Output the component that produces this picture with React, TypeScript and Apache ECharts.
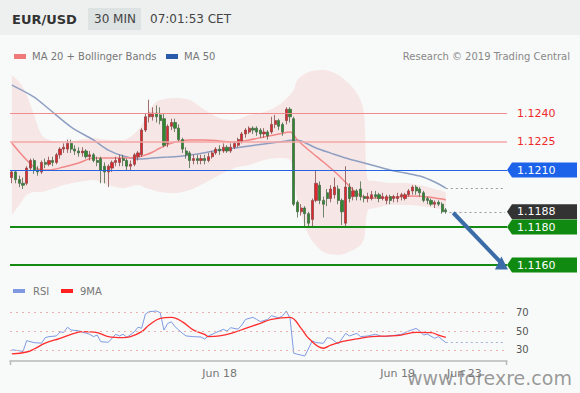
import React, { useEffect, useRef } from 'react';
import * as echarts from 'echarts';

const N_CATS = 134;
const TICK_INDEX = [56, 104, 122];
const TICK_LABELS = ['Jun 18', 'Jun 19', 'Jun 23'];

// [open, close, low, high]
const CANDLES = [
  [1.1206, 1.1209, 1.1203, 1.1210], [1.1209, 1.1205, 1.1203, 1.1210], [1.1205, 1.1203, 1.1201, 1.1207], [1.1203, 1.1202, 1.1200, 1.1206],
  [1.1203, 1.1211, 1.1202, 1.1212], [1.1211, 1.1215, 1.1210, 1.1216], [1.1215, 1.1210, 1.1208, 1.1216], [1.1210, 1.1209, 1.1207, 1.1212],
  [1.1209, 1.1214, 1.1208, 1.1215], [1.1214, 1.1213, 1.1211, 1.1216], [1.1213, 1.1215, 1.1212, 1.1217], [1.1215, 1.1214, 1.1212, 1.1217],
  [1.1214, 1.1218, 1.1213, 1.1219], [1.1218, 1.1221, 1.1216, 1.1222], [1.1221, 1.1222, 1.1219, 1.1224], [1.1221, 1.1224, 1.1219, 1.1226],
  [1.1224, 1.1221, 1.1219, 1.1226], [1.1221, 1.1220, 1.1218, 1.1223], [1.1220, 1.1219, 1.1217, 1.1222], [1.1219, 1.1220, 1.1217, 1.1222],
  [1.1220, 1.1217, 1.1216, 1.1221], [1.1217, 1.1218, 1.1215, 1.1220], [1.1218, 1.1215, 1.1214, 1.1219], [1.1215, 1.1214, 1.1212, 1.1217],
  [1.1216, 1.1210, 1.1203, 1.1217], [1.1212, 1.1209, 1.1203, 1.1214], [1.1209, 1.1212, 1.1201, 1.1213], [1.1211, 1.1214, 1.1209, 1.1215],
  [1.1214, 1.1215, 1.1212, 1.1217], [1.1214, 1.1216, 1.1212, 1.1218], [1.1216, 1.1215, 1.1212, 1.1218], [1.1215, 1.1212, 1.1210, 1.1216],
  [1.1212, 1.1213, 1.1210, 1.1215], [1.1213, 1.1218, 1.1212, 1.1219], [1.1217, 1.1219, 1.1215, 1.1220], [1.1218, 1.1231, 1.1217, 1.1232],
  [1.1231, 1.1238, 1.1230, 1.1240], [1.1238, 1.1240, 1.1235, 1.1247], [1.1238, 1.1240, 1.1236, 1.1243], [1.1240, 1.1238, 1.1235, 1.1244],
  [1.1239, 1.1236, 1.1234, 1.1243], [1.1237, 1.1223, 1.1222, 1.1240], [1.1224, 1.1233, 1.1222, 1.1234], [1.1233, 1.1235, 1.1231, 1.1237],
  [1.1235, 1.1232, 1.1230, 1.1237], [1.1232, 1.1226, 1.1225, 1.1234], [1.1226, 1.1221, 1.1219, 1.1227], [1.1220, 1.1218, 1.1216, 1.1222],
  [1.1219, 1.1215, 1.1211, 1.1220], [1.1215, 1.1216, 1.1213, 1.1218], [1.1216, 1.1215, 1.1213, 1.1218], [1.1215, 1.1216, 1.1213, 1.1218],
  [1.1216, 1.1215, 1.1213, 1.1218], [1.1215, 1.1217, 1.1214, 1.1219], [1.1217, 1.1219, 1.1216, 1.1220], [1.1219, 1.1221, 1.1218, 1.1222],
  [1.1221, 1.1220, 1.1218, 1.1223], [1.1220, 1.1222, 1.1219, 1.1224], [1.1222, 1.1220, 1.1219, 1.1223], [1.1220, 1.1222, 1.1219, 1.1224],
  [1.1222, 1.1224, 1.1221, 1.1225], [1.1223, 1.1226, 1.1222, 1.1227], [1.1225, 1.1229, 1.1224, 1.1230], [1.1229, 1.1231, 1.1227, 1.1232],
  [1.1230, 1.1232, 1.1229, 1.1233], [1.1232, 1.1231, 1.1229, 1.1233], [1.1232, 1.1230, 1.1228, 1.1233], [1.1231, 1.1229, 1.1227, 1.1232],
  [1.1229, 1.1230, 1.1227, 1.1232], [1.1230, 1.1228, 1.1226, 1.1231], [1.1230, 1.1234, 1.1229, 1.1238], [1.1234, 1.1236, 1.1232, 1.1239],
  [1.1236, 1.1233, 1.1231, 1.1237], [1.1234, 1.1230, 1.1228, 1.1235], [1.1236, 1.1242, 1.1234, 1.1243], [1.1242, 1.1238, 1.1235, 1.1243],
  [1.1237, 1.1192, 1.1191, 1.1238], [1.1193, 1.1188, 1.1185, 1.1194], [1.1188, 1.1190, 1.1186, 1.1192], [1.1190, 1.1187, 1.1180, 1.1191],
  [1.1187, 1.1182, 1.1180, 1.1188], [1.1184, 1.1194, 1.1180, 1.1195], [1.1194, 1.1203, 1.1193, 1.1210], [1.1202, 1.1194, 1.1192, 1.1204],
  [1.1194, 1.1192, 1.1185, 1.1196], [1.1198, 1.1195, 1.1191, 1.1200], [1.1195, 1.1200, 1.1193, 1.1202], [1.1197, 1.1201, 1.1195, 1.1206],
  [1.1200, 1.1194, 1.1192, 1.1202], [1.1194, 1.1188, 1.1181, 1.1195], [1.1182, 1.1201, 1.1180, 1.1212], [1.1201, 1.1195, 1.1193, 1.1203],
  [1.1196, 1.1199, 1.1194, 1.1201], [1.1199, 1.1196, 1.1194, 1.1200], [1.1200, 1.1196, 1.1194, 1.1204], [1.1196, 1.1195, 1.1193, 1.1197],
  [1.1195, 1.1196, 1.1193, 1.1198], [1.1195, 1.1197, 1.1194, 1.1199], [1.1197, 1.1196, 1.1195, 1.1199], [1.1197, 1.1195, 1.1193, 1.1198],
  [1.1195, 1.1196, 1.1194, 1.1198], [1.1194, 1.1196, 1.1192, 1.1197], [1.1196, 1.1194, 1.1192, 1.1197], [1.1195, 1.1196, 1.1193, 1.1197],
  [1.1195, 1.1196, 1.1193, 1.1198], [1.1196, 1.1197, 1.1194, 1.1198], [1.1195, 1.1197, 1.1194, 1.1198], [1.1197, 1.1199, 1.1196, 1.1200],
  [1.1199, 1.1201, 1.1197, 1.1202], [1.1201, 1.1199, 1.1197, 1.1202], [1.1200, 1.1198, 1.1196, 1.1201], [1.1198, 1.1194, 1.1193, 1.1199],
  [1.1195, 1.1194, 1.1192, 1.1196], [1.1194, 1.1192, 1.1191, 1.1195], [1.1192, 1.1193, 1.1190, 1.1194], [1.1193, 1.1192, 1.1191, 1.1194],
  [1.1192, 1.1188, 1.1187, 1.1193], [1.1189, 1.1188, 1.1187, 1.1190],
];

const BB_IDX = [0, 2, 4, 6, 8, 10, 14, 18, 22, 26, 30, 34, 36, 38, 40, 44, 48, 52, 56, 60, 64, 68, 72, 75, 76, 77, 80, 84, 88, 92, 94, 95, 96, 98, 102, 106, 110, 114, 117];
const BB_UPPER = [1.126, 1.12563, 1.12495, 1.12389, 1.12284, 1.12258, 1.12242, 1.12258, 1.12268, 1.12258, 1.12258, 1.12311, 1.12374, 1.12442, 1.12468, 1.12479, 1.12468, 1.12416, 1.12374, 1.12363, 1.12389, 1.12405, 1.12442, 1.12495, 1.12521, 1.12574, 1.12616, 1.12626, 1.126, 1.12532, 1.12468, 1.12389, 1.12047, 1.12042, 1.12032, 1.12032, 1.12021, 1.12, 1.11984];
const BB_LOWER = [1.11863, 1.11916, 1.11968, 1.11984, 1.11984, 1.11995, 1.12021, 1.12037, 1.12047, 1.12021, 1.12005, 1.12021, 1.12005, 1.11995, 1.11984, 1.11979, 1.11995, 1.12032, 1.12074, 1.12111, 1.12126, 1.12153, 1.12163, 1.12153, 1.12074, 1.11942, 1.11758, 1.11668, 1.11653, 1.11679, 1.11705, 1.11742, 1.11889, 1.119, 1.11916, 1.11916, 1.11911, 1.119, 1.11889];

const MA20_IDX = [0, 2, 4, 6, 8, 10, 14, 18, 22, 26, 30, 34, 36, 38, 40, 44, 48, 52, 56, 60, 64, 68, 72, 75, 77, 80, 84, 88, 92, 94, 96, 100, 104, 108, 112, 116, 117];
const MA20 = [1.12242, 1.12195, 1.12153, 1.12116, 1.121, 1.121, 1.12116, 1.12137, 1.12163, 1.12163, 1.12163, 1.12168, 1.12179, 1.12195, 1.12216, 1.12247, 1.12258, 1.12258, 1.12253, 1.12247, 1.12258, 1.12274, 1.12289, 1.123, 1.12258, 1.12205, 1.12142, 1.12074, 1.11995, 1.11963, 1.11953, 1.11953, 1.11958, 1.11963, 1.11958, 1.11947, 1.11942];

const MA50_IDX = [0, 6, 10, 16, 22, 26, 30, 34, 38, 42, 46, 50, 56, 62, 68, 74, 76, 78, 82, 86, 90, 94, 98, 102, 106, 110, 114, 117];
const MA50 = [1.12547, 1.12484, 1.12421, 1.12326, 1.12258, 1.12205, 1.12174, 1.12158, 1.12163, 1.12168, 1.12174, 1.12184, 1.12205, 1.12221, 1.12237, 1.12253, 1.12258, 1.12253, 1.12216, 1.12189, 1.12163, 1.12142, 1.12121, 1.121, 1.12084, 1.12068, 1.12037, 1.12005];

const RSI_IDX = [0, 2, 3, 4, 6, 8, 9, 10, 12, 13, 14, 15, 16, 18, 19, 21, 22, 23, 24, 26, 28, 29, 30, 31, 33, 34, 35, 36, 37, 39, 40, 41, 42, 43, 44, 46, 47, 49, 51, 52, 53, 55, 57, 58, 59, 61, 62, 63, 65, 66, 67, 69, 70, 72, 73, 74, 75, 76, 77, 79, 81, 82, 84, 85, 86, 88, 90, 91, 93, 94, 96, 98, 100, 102, 105, 107, 109, 110, 111, 112, 114, 115, 117];
const RSI = [30, 29, 28, 39.7, 37.6, 37, 43, 44, 44.7, 49, 48.6, 54, 51, 50.3, 49, 46.5, 44, 45.7, 38.6, 38, 46.5, 44.7, 46.5, 43.3, 49, 54, 53, 68, 70.6, 71.3, 69.5, 51, 58, 59.8, 54.6, 47.5, 44.7, 44, 43.6, 41.5, 44.7, 48.3, 51.8, 50, 53.5, 52, 56.4, 62.4, 64.6, 62.4, 60, 62.4, 66.3, 64, 66.3, 71.3, 63.5, 26.3, 25.2, 23.4, 39.4, 37.6, 36.9, 42.9, 42.2, 36.2, 47.5, 44.7, 47.5, 44, 44.7, 46.5, 44, 44.7, 46.5, 50, 52.8, 50, 45.7, 46.8, 42.2, 44, 37.6];

const RSI_MA_IDX = [0, 4, 6, 9, 13, 16, 19, 23, 26, 30, 32, 35, 37, 40, 43, 46, 49, 52, 53, 56, 60, 63, 67, 70, 75, 78, 80, 84, 86, 89, 93, 97, 102, 105, 109, 113, 115, 117];
const RSI_MA = [25.5, 27.6, 30.8, 37, 42.2, 46.5, 49.3, 48.2, 44, 42.9, 44, 49.3, 56.4, 63.5, 64.6, 59.8, 51, 46.5, 44, 44.7, 48.6, 52.8, 58.2, 62.4, 64.6, 52.8, 42.2, 31.6, 35, 38.6, 41.5, 44, 44.7, 45.7, 48.6, 48.2, 45.7, 43.3];

const RED_LEVELS = [1.124, 1.1225];
const BOX_LEVELS = [1.121, 1.1188, 1.118, 1.116];
const BOX_COLORS = ['#1c63ea', '#333333', '#118a11', '#118a11'];
const LAST_PRICE = 1.1188;
const RSI_LEVELS = [70, 50, 30];
const RSI_LAST = 37.6;
const ARROW_FROM = [119, 1.11875];
const ARROW_TO = [132, 1.1161];

const FONT = '"DejaVu Sans", sans-serif';
const GRID_L = 10;
const GRID_R = 507;

const pairs = (idx: number[], vals: number[]) => idx.map((x, k) => [x, vals[k]]);

function buildOption() {
  const cats = Array.from({ length: N_CATS }, (_, i) => String(i));
  const labelFor = (v: string) => {
    const k = TICK_INDEX.indexOf(Number(v));
    return k >= 0 ? TICK_LABELS[k] : '';
  };
  const ma50Last = MA50[MA50.length - 1];
  const lastIdx = CANDLES.length - 1;
  const dotted = { type: [2, 3], color: '#9a9a9a', width: 1 };
  return {
    animation: false,
    backgroundColor: '#f8faf9',
    textStyle: { fontFamily: FONT },
    grid: [
      { left: GRID_L, right: 580 - GRID_R, top: 65.5, height: 209 },
      { left: GRID_L, right: 580 - GRID_R, top: 301, height: 60 },
    ],
    xAxis: [
      { type: 'category', gridIndex: 0, data: cats, boundaryGap: true, show: false },
      {
        type: 'category', gridIndex: 1, data: cats, boundaryGap: true,
        axisLine: { lineStyle: { color: '#b8b8b8', width: 1.5 } },
        axisTick: { show: false },
        axisLabel: { interval: 0, formatter: labelFor, color: '#777', fontSize: 11, margin: 7, fontFamily: FONT },
      },
    ],
    yAxis: [
      { type: 'value', gridIndex: 0, min: 1.1155, max: 1.1265, show: false },
      { type: 'value', gridIndex: 1, min: 18, max: 82, show: false },
    ],
    series: [
      {
        name: 'bbLower', type: 'line', stack: 'bb', data: pairs(BB_IDX, BB_LOWER), smooth: 0.3,
        showSymbol: false, lineStyle: { opacity: 0 }, silent: true, z: 1,
      },
      {
        name: 'bbRange', type: 'line', stack: 'bb',
        data: BB_IDX.map((x, k) => [x, BB_UPPER[k] - BB_LOWER[k]]), smooth: 0.3,
        showSymbol: false, lineStyle: { opacity: 0 }, areaStyle: { color: 'rgba(242,125,125,0.22)' }, silent: true, z: 1,
      },
      {
        name: 'MA50', type: 'line', data: pairs(MA50_IDX, MA50), smooth: 0.3, showSymbol: false,
        lineStyle: { color: '#8e9fc2', width: 1.5 }, silent: true, z: 2,
        markLine: {
          silent: true, symbol: 'none', precision: 5, label: { show: false },
          data: [
            { yAxis: RED_LEVELS[0], lineStyle: { color: '#f08c8c', width: 1.2, type: 'solid' } },
            { yAxis: RED_LEVELS[1], lineStyle: { color: '#f5a6a6', width: 1.6, type: 'solid' } },
            { yAxis: BOX_LEVELS[0], lineStyle: { color: '#2462e2', width: 1, type: 'solid' } },
            { yAxis: BOX_LEVELS[2], lineStyle: { color: '#148a14', width: 2, type: 'solid' } },
            { yAxis: BOX_LEVELS[3], lineStyle: { color: '#148a14', width: 2, type: 'solid' } },
            [{ coord: [lastIdx, ma50Last], lineStyle: dotted }, { coord: [N_CATS - 1, ma50Last], lineStyle: dotted }],
            [{ coord: [lastIdx + 1, LAST_PRICE], lineStyle: dotted }, { coord: [N_CATS - 1, LAST_PRICE], lineStyle: dotted }],
          ],
        },
      },
      {
        name: 'MA20', type: 'line', data: pairs(MA20_IDX, MA20), smooth: 0.3, showSymbol: false,
        lineStyle: { color: '#f28888', width: 1.5 }, silent: true, z: 2,
      },
      {
        name: 'EURUSD', type: 'candlestick', data: CANDLES, barWidth: '72%', silent: true, z: 3,
        itemStyle: { color: '#e3262b', color0: '#2d8a2d', borderColor: '#8a4a4a', borderColor0: '#4a6a4a', borderWidth: 0.8 },
        markLine: {
          silent: true, symbol: ['none', 'triangle'], symbolSize: 13, symbolRotate: 0, precision: 5, label: { show: false },
          lineStyle: { color: '#3b6ca8', width: 4, type: 'solid' },
          data: [[{ coord: ARROW_FROM }, { coord: ARROW_TO }]],
        },
      },
      {
        name: 'RSI', type: 'line', xAxisIndex: 1, yAxisIndex: 1, data: pairs(RSI_IDX, RSI), showSymbol: false,
        lineStyle: { color: '#7f9ae2', width: 1 }, silent: true, z: 3,
        markLine: {
          silent: true, symbol: 'none', precision: 2,
          data: [
            ...RSI_LEVELS.map((v) => ({
              yAxis: v,
              lineStyle: { type: [2, 4], color: '#eab0b0', width: 1 },
              label: { show: true, position: 'end', formatter: String(v), color: '#555', fontSize: 10, distance: 9, fontFamily: FONT },
            })),
            [
              { coord: [lastIdx, RSI_LAST], lineStyle: { type: [2, 3], color: '#a4b2d8', width: 1 }, label: { show: false } },
              { coord: [N_CATS - 1, RSI_LAST], lineStyle: { type: [2, 3], color: '#a4b2d8', width: 1 }, label: { show: false } },
            ],
          ],
        },
      },
      {
        name: '9MA', type: 'line', xAxisIndex: 1, yAxisIndex: 1, data: pairs(RSI_MA_IDX, RSI_MA), smooth: 0.4,
        showSymbol: false, lineStyle: { color: '#ff2d2d', width: 1.3 }, silent: true, z: 4,
      },
    ],
  };
}

const txt = (text: string, x: number, y: number, font: string, fill: string, align = 'left', z = 50) => ({
  type: 'text', x, y, silent: true, z,
  style: { text, font, fill, align, verticalAlign: 'middle' },
});

function buildGraphic(yPx: (v: number) => number) {
  const g: any[] = [
    { type: 'rect', shape: { x: 0, y: 0, width: 580, height: 35 }, style: { fill: '#edf0ef' }, silent: true, z: 0 },
    txt('EUR/USD', 12, 19, `bold 13px ${FONT}`, '#333333'),
    { type: 'rect', shape: { x: 88, y: 8, width: 53, height: 22 }, style: { fill: '#dde2e2' }, silent: true, z: 1 },
    txt('30 MIN', 94, 19, `12px ${FONT}`, '#444444'),
    txt('07:01:53 CET', 150, 19, `12px ${FONT}`, '#444444'),
    { type: 'rect', shape: { x: 14, y: 54, width: 12, height: 5 }, style: { fill: '#f07a7a' }, silent: true },
    txt('MA 20 + Bollinger Bands', 32, 56.5, `10px ${FONT}`, '#777777'),
    { type: 'rect', shape: { x: 166, y: 54, width: 12, height: 5 }, style: { fill: '#2a5aaa' }, silent: true },
    txt('MA 50', 184, 56.5, `10px ${FONT}`, '#777777'),
    txt('Research © 2019 Trading Central', 570, 56.5, `10px ${FONT}`, '#888888', 'right'),
    { type: 'rect', shape: { x: 13, y: 289, width: 12, height: 4 }, style: { fill: '#7f9ae2' }, silent: true },
    txt('RSI', 33, 291, `10px ${FONT}`, '#777777'),
    { type: 'rect', shape: { x: 61, y: 289, width: 12, height: 4 }, style: { fill: '#ff2020' }, silent: true },
    txt('9MA', 80, 291, `10px ${FONT}`, '#777777'),
    { type: 'line', shape: { x1: GRID_L + 0.5, y1: 361, x2: GRID_L + 0.5, y2: 365 }, style: { stroke: '#b8b8b8', lineWidth: 1.5 }, silent: true },
    { type: 'line', shape: { x1: GRID_R - 0.5, y1: 361, x2: GRID_R - 0.5, y2: 365 }, style: { stroke: '#b8b8b8', lineWidth: 1.5 }, silent: true },
  ];
  RED_LEVELS.forEach((v) => {
    g.push(txt(v.toFixed(4), 517, yPx(v), `11px ${FONT}`, '#ec2a2a'));
  });
  BOX_LEVELS.forEach((v, k) => {
    const y = yPx(v);
    const h = 7.5;
    g.push({
      type: 'polygon', silent: true, z: 40,
      shape: { points: [[GRID_R, y], [GRID_R + 5, y - h], [577, y - h], [577, y + h], [GRID_R + 5, y + h]] },
      style: { fill: BOX_COLORS[k] },
    });
    g.push(txt(v.toFixed(4), 517, y, `11px ${FONT}`, '#ffffff', 'left', 45));
  });
  g.push(txt('www.forexre.com', 407, 378, `19px ${FONT}`, 'rgba(115,115,115,0.72)', 'left', 100));
  return g;
}

export default function App() {
  const ref = useRef<HTMLDivElement>(null);
  useEffect(() => {
    if (!ref.current) return;
    const chart = echarts.init(ref.current, null, { renderer: 'svg' });
    chart.setOption(buildOption() as any);
    const yPx = (v: number) => chart.convertToPixel({ yAxisIndex: 0 } as any, v) as unknown as number;
    chart.setOption({ graphic: buildGraphic(yPx) } as any);
    return () => chart.dispose();
  }, []);
  return <div ref={ref} style={{ position: 'absolute', left: 0, top: 0, width: 580, height: 393 }} />;
}
